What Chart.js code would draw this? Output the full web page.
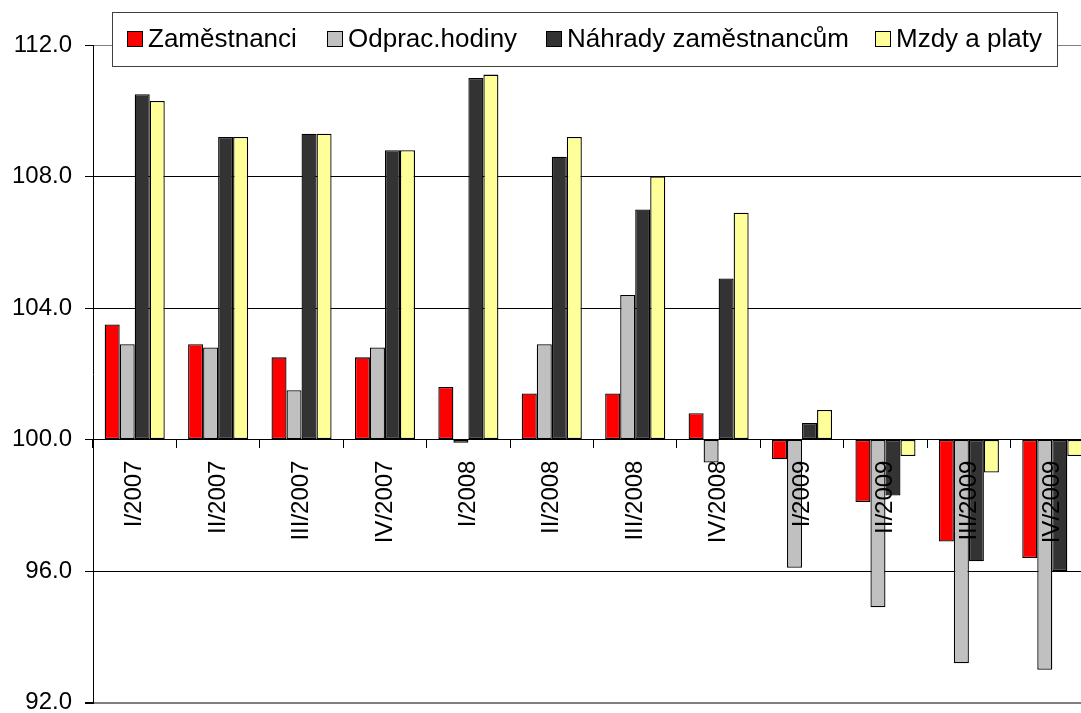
<!DOCTYPE html>
<html lang="cs">
<head>
<meta charset="UTF-8">
<title>Zaměstnanci, hodiny, náhrady a mzdy</title>
<style>
  *{box-sizing:border-box;margin:0;padding:0}
  html,body{background:#fff;overflow:hidden;width:1081px;height:713px}
  .wrap{width:1110px;height:730px;position:relative}
</style>
</head>
<body>

<div class="wrap"><canvas id="chart"></canvas></div>

<script src="https://cdn.jsdelivr.net/npm/chart.js@4.4.0"></script>
<script>
/* Categories */
const labels = ["I/2007","II/2007","III/2007","IV/2007","I/2008","II/2008","III/2008","IV/2008","I/2009","II/2009","III/2009","IV/2009"];

/* Series (index, same period of previous year = 100) */
const zamestnanci = [103.5,102.9,102.5,102.5,101.6,101.4,101.4,100.8,99.4,98.1,96.9,96.4];
const hodiny      = [102.9,102.8,101.5,102.8,99.9,102.9,104.4,99.3,96.1,94.9,93.2,93.0];
const nahrady     = [110.5,109.2,109.3,108.8,111.0,108.6,107.0,104.9,100.5,98.3,96.3,96.0];
const mzdy        = [110.3,109.2,109.3,108.8,111.1,109.2,108.0,106.9,100.9,99.5,99.0,99.5];

/* Y axis */
const yMin = 92, yMax = 112, yStep = 4, base = 100;

const FONT = "'Liberation Sans', Arial, sans-serif";

function ds(label, data, color){
  return {label:label, data:data, backgroundColor:color, borderColor:'#000',
          borderWidth:1.3, borderSkipped:false, base:base,
          barPercentage:1.0, categoryPercentage:0.72};
}

/* legend drawn as a framed box over the top of the plot */
const legendX = [127, 327, 546, 875];
const boxLegend = {
  id:'boxLegend',
  afterDraw(chart){
    const c = chart.ctx;
    const x0 = 112, y0 = 12, w = 945, h = 54;
    c.save();
    c.fillStyle = '#fff';
    c.fillRect(x0, y0, w, h);
    c.strokeStyle = '#404040';
    c.lineWidth = 1;
    c.strokeRect(x0 + .5, y0 + .5, w, h);
    c.font = '26px ' + FONT;
    c.textBaseline = 'middle';
    const cy = y0 + h / 2;
    chart.data.datasets.forEach((d, i) => {
      const x = legendX[i];
      c.fillStyle = d.backgroundColor;
      c.fillRect(x, cy - 8, 16, 16);
      c.strokeStyle = '#000';
      c.strokeRect(x + .5, cy - 7.5, 15, 15);
      c.fillStyle = '#000';
      c.fillText(d.label, x + 21, cy + 1);
    });
    c.restore();
  }
};

new Chart(document.getElementById('chart'), {
  type:'bar',
  data:{
    labels:labels,
    datasets:[
      ds('Zaměstnanci', zamestnanci, '#ff0000'),
      ds('Odprac.hodiny', hodiny, '#c0c0c0'),
      ds('Náhrady zaměstnancům', nahrady, '#333333'),
      ds('Mzdy a platy', mzdy, '#ffff99')
    ]
  },
  options:{
    responsive:true,
    maintainAspectRatio:false,
    animation:false,
    layout:{padding:{top:45, bottom:27, left:0, right:16}},
    plugins:{legend:{display:false}, tooltip:{enabled:false}},
    scales:{
      x:{
        position:{y:base},
        grid:{drawOnChartArea:false, drawTicks:true, tickLength:8, color:'#000', offset:true, z:1},
        border:{display:true, color:'#000', width:1, z:1},
        ticks:{z:2, color:'#000', font:{family:FONT, size:24}, minRotation:90, maxRotation:90, padding:13, autoSkip:false}
      },
      y:{
        min:yMin, max:yMax,
        afterFit(scale){ scale.width = 93; },
        grid:{
          color:ctx => (ctx.tick && (ctx.tick.value === yMin || ctx.tick.value === yMax)) ? '#808080' : '#000',
          lineWidth:ctx => (ctx.tick && ctx.tick.value === yMin) ? 2 : 1,
          tickColor:'#000', tickLength:8
        },
        border:{display:true, color:'#000', width:1},
        ticks:{stepSize:yStep, color:'#000', font:{family:FONT, size:24}, padding:13,
               callback:v => v.toFixed(1)}
      }
    }
  },
  plugins:[boxLegend]
});
</script>

</body>
</html>
